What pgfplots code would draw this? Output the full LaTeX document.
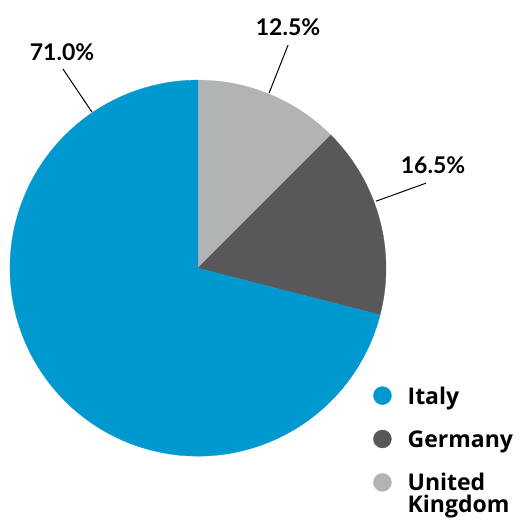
\documentclass[border=0pt]{standalone}
\usepackage{pgfplots}
\pgfplotsset{compat=1.18}
\usepackage{fontspec}
\setmainfont{Lato}
\newfontfamily\labfont{Lato}[UprightFont=* Bold]
\newfontfamily\legfont{Open Sans}[UprightFont=* Bold]
\definecolor{itc}{HTML}{0099CF}
\definecolor{dec}{HTML}{58585B}
\definecolor{ukc}{HTML}{B2B3B5}
% shares (%)
\def\pUK{12.5}
\def\pDE{16.5}
\def\pIT{71.0}
\pgfmathsetmacro{\aA}{90}
\pgfmathsetmacro{\aB}{90-3.6*\pUK}
\pgfmathsetmacro{\aC}{\aB-3.6*\pDE}
\pgfmathsetmacro{\aD}{\aC-3.6*\pIT}
\begin{document}
\begin{tikzpicture}
\begin{axis}[
  x=188pt, y=188pt,
  xmin=-1, xmax=1, ymin=-1, ymax=1,
  hide axis, clip=false,
  legend cell align=left,
  legend style={at={(axis cs:0.931,-0.628)}, anchor=north west, draw=none, fill=none,
    inner sep=0pt, row sep=25pt, column sep=16pt,
    nodes={inner sep=0pt, text depth=0pt, text height=0pt},
    font=\fontsize{23}{22}\legfont},
]
\addlegendimage{legend image code/.code={\fill[itc] (9pt,0pt) circle (9pt);}}
\addlegendentry{\raisebox{-8.5pt}[0pt][0pt]{Italy}}
\addlegendimage{legend image code/.code={\fill[dec] (9pt,0pt) circle (9pt);}}
\addlegendentry{\raisebox{-8.5pt}[0pt][0pt]{Germany}}
\addlegendimage{legend image code/.code={\fill[ukc] (9pt,0pt) circle (9pt);}}
\addlegendentry{\raisebox{-8.5pt}[0pt][0pt]{\vtop{\baselineskip=22pt\hbox{United}\hbox{Kingdom}}}}

\addplot[fill=ukc, draw=ukc, line width=0.3pt, domain=\aB:\aA, samples=60, forget plot]
  ({cos(x)},{sin(x)}) -- (axis cs:0,0) -- cycle;
\addplot[fill=dec, draw=dec, line width=0.3pt, domain=\aC:\aB, samples=60, forget plot]
  ({cos(x)},{sin(x)}) -- (axis cs:0,0) -- cycle;
\addplot[fill=itc, draw=itc, line width=0.3pt, domain=\aD:\aC, samples=200, forget plot]
  ({cos(x)},{sin(x)}) -- (axis cs:0,0) -- cycle;

\draw[line width=1pt] (axis cs:-0.718,1.059) -- (axis cs:-0.564,0.830);
\draw[line width=1pt] (axis cs:0.479,1.186) -- (axis cs:0.378,0.931);
\draw[line width=1pt] (axis cs:1.213,0.452) -- (axis cs:0.947,0.356);
\node[font=\fontsize{23}{26}\labfont] at (axis cs:-0.723,1.149) {71.0\%};
\node[font=\fontsize{23}{26}\labfont] at (axis cs:0.479,1.282) {12.5\%};
\node[font=\fontsize{23}{26}\labfont] at (axis cs:1.25,0.548) {16.5\%};
\path (axis cs:-1.053,-1.340) rectangle (axis cs:1.718,1.426);
\end{axis}
\end{tikzpicture}
\end{document}
